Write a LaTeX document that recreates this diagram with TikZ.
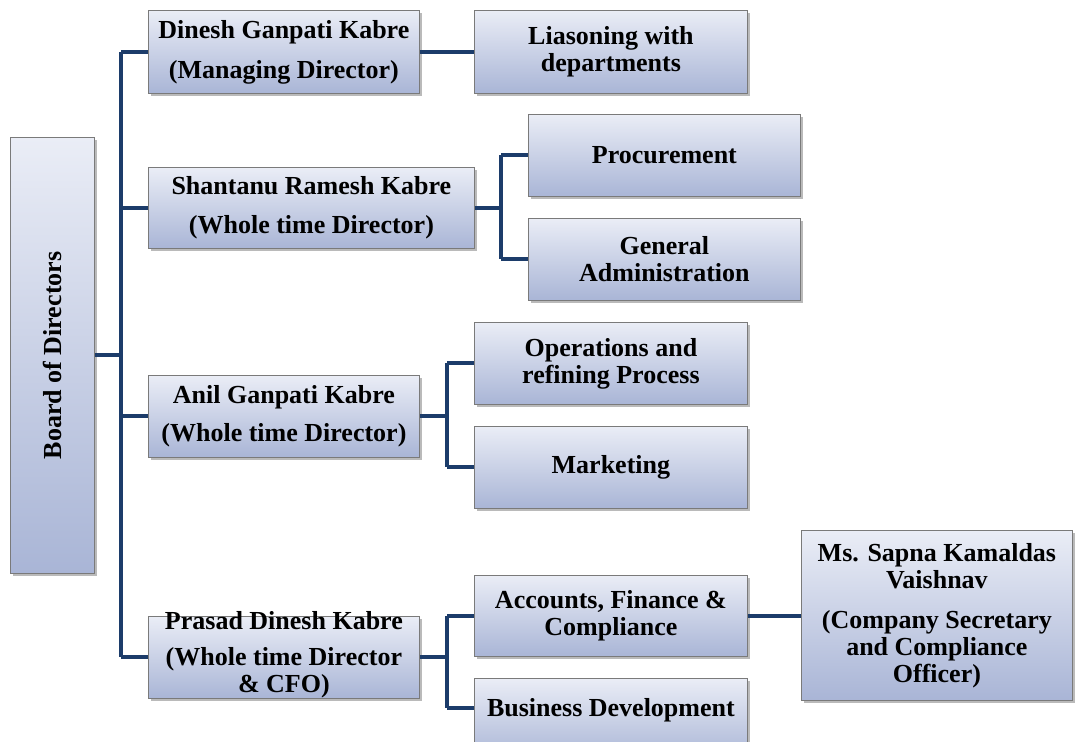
\documentclass[tikz,border=0pt]{standalone}
\usepackage{fontspec}
\setmainfont{Liberation Serif}
\usetikzlibrary{shadows}
\definecolor{boxtop}{HTML}{EAEDF6}
\definecolor{boxbot}{HTML}{A9B5D6}
\definecolor{boxline}{HTML}{7A7A7A}
\definecolor{connc}{HTML}{1C3C6A}
\tikzset{
  orgbox/.style={draw=boxline, line width=0.8pt, top color=boxtop, bottom color=boxbot,
    anchor=north west, inner sep=0pt, align=center,
    drop shadow={shadow xshift=2.5pt, shadow yshift=-2.5pt, opacity=0.45, fill=black!60},
    font=\fontsize{26}{27}\selectfont\bfseries},
  txt/.style={align=center, inner sep=0pt, font=\fontsize{26}{27}\selectfont\bfseries},
  conn/.style={draw=connc, line width=4pt, line cap=butt, line join=miter}
}
\begin{document}
\begin{tikzpicture}[x=1pt,y=-1pt]
\useasboundingbox (0,0) rectangle (1078,741);
% boxes
\node[orgbox, minimum width=84, minimum height=436] (board) at (10,137) {};
\node[txt, rotate=90] at (board.center) {Board of Directors};
\node[orgbox, minimum width=271, minimum height=83] (dinesh) at (148,10) {Dinesh Ganpati Kabre\\[13pt](Managing Director)};
\node[orgbox, minimum width=273, minimum height=83] (liason) at (474,10) {Liasoning with\\departments};
\node[orgbox, minimum width=326, minimum height=81] (shantanu) at (148,167) {Shantanu Ramesh Kabre\\[12pt](Whole time Director)};
\node[orgbox, minimum width=272, minimum height=82] (proc) at (528,114) {Procurement};
\node[orgbox, minimum width=272, minimum height=82] (genadm) at (528,218) {General\\Administration};
\node[orgbox, minimum width=271, minimum height=82] (anil) at (148,375) {Anil Ganpati Kabre\\[11pt](Whole time Director)};
\node[orgbox, minimum width=273, minimum height=82] (ops) at (474,322) {Operations and\\refining Process};
\node[orgbox, minimum width=273, minimum height=82] (mkt) at (474,426) {Marketing};
\node[orgbox, minimum width=271, minimum height=82] (prasad) at (148,616) {};
\node[txt] at ([yshift=3pt]prasad.center) {Prasad Dinesh Kabre\\[9pt](Whole time Director\\\& CFO)};
\node[orgbox, minimum width=273, minimum height=81] (acc) at (474,575) {Accounts, Finance \&\\Compliance};
\node[orgbox, minimum width=273, minimum height=82] (bd) at (474,678) {};
\node[txt] (bdtext) at ([yshift=9pt]bd.center) {Business Development};
\node[orgbox, minimum width=271, minimum height=170] (sapna) at (801,530) {Ms. Sapna Kamaldas\\Vaishnav\\[13pt](Company Secretary\\and Compliance\\Officer)};
% connectors
\coordinate (t1) at (121,0);
\coordinate (t2) at (501,0);
\coordinate (t3) at (447,0);
\coordinate (bdin) at ([yshift=11pt]bd.west);
\draw[conn] (board.east) -- (board.east -| t1);
\draw[conn] (t1 |- dinesh.west) -- (t1 |- prasad.west);
\draw[conn] (t1 |- dinesh.west) -- (dinesh.west);
\draw[conn] (t1 |- shantanu.west) -- (shantanu.west);
\draw[conn] (t1 |- anil.west) -- (anil.west);
\draw[conn] (t1 |- prasad.west) -- (prasad.west);
\draw[conn] (dinesh.east) -- (dinesh.east -| liason.west);
\draw[conn] (shantanu.east) -- (shantanu.east -| t2);
\draw[conn] (t2 |- proc.west) -- (t2 |- genadm.west);
\draw[conn] (t2 |- proc.west) -- (proc.west);
\draw[conn] (t2 |- genadm.west) -- (genadm.west);
\draw[conn] (anil.east) -- (anil.east -| t3);
\draw[conn] (t3 |- ops.west) -- (t3 |- mkt.west);
\draw[conn] (t3 |- ops.west) -- (ops.west);
\draw[conn] (t3 |- mkt.west) -- (mkt.west);
\draw[conn] (prasad.east) -- (prasad.east -| t3);
\draw[conn] (t3 |- acc.west) -- (t3 |- bdin);
\draw[conn] (t3 |- acc.west) -- (acc.west);
\draw[conn] (t3 |- bdin) -- (bdin);
\draw[conn] (acc.east) -- (acc.east -| sapna.west);
\end{tikzpicture}
\end{document}
